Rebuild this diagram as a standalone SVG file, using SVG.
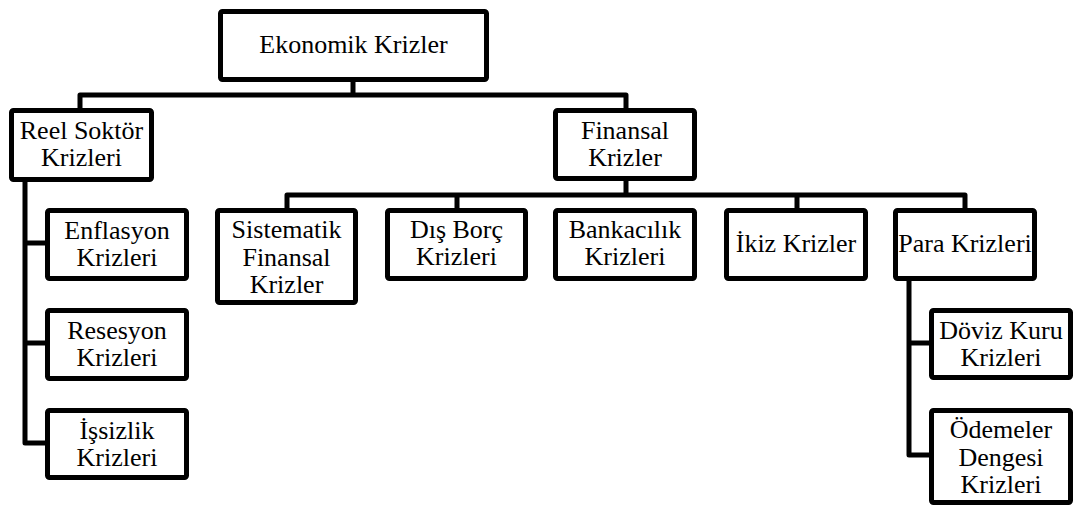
<svg xmlns="http://www.w3.org/2000/svg" width="1081" height="507" viewBox="0 0 1081 507">
<style>
.box{fill:#fff;stroke:#000;stroke-width:5;}
.c{fill:none;stroke:#000;stroke-width:5;stroke-linejoin:round;}
</style>
<rect width="1081" height="507" fill="#fff"/>
<g id="connectors">
<path class="c" d="M353,82 V95 M80,108 V95 H626 V108"/>
<path class="c" d="M626,181 V195 M287,208 V195 H965 V208 M457,195 V208 M797,195 V208"/>
<path class="c" d="M25,182 V443 H45 M25,243 H45 M25,343 H45"/>
<path class="c" d="M909,281 V455 H929 M909,343 H929"/>
</g>
<g font-family="Liberation Serif, Times New Roman, Tinos, DejaVu Serif, serif" font-size="26" text-anchor="middle" fill="#000">
<g id="ekonomik"><rect class="box" x="220.5" y="11.5" width="266" height="68" rx="2"/><text x="353.5" y="53">Ekonomik Krizler</text></g>
<g id="reel"><rect class="box" x="11.5" y="110.5" width="140" height="69" rx="2"/><text x="81.5" y="139">Reel Soktör</text><text x="81.5" y="166">Krizleri</text></g>
<g id="finansal"><rect class="box" x="555.5" y="110.5" width="139" height="68" rx="2"/><text x="625" y="139">Finansal</text><text x="625" y="166">Krizler</text></g>
<g id="enflasyon"><rect class="box" x="47.5" y="210.5" width="139" height="68" rx="2"/><text x="117" y="239">Enflasyon</text><text x="117" y="266">Krizleri</text></g>
<g id="resesyon"><rect class="box" x="47.5" y="310.5" width="139" height="68" rx="2"/><text x="117" y="339">Resesyon</text><text x="117" y="366">Krizleri</text></g>
<g id="issizlik"><rect class="box" x="47.5" y="410.5" width="139" height="67" rx="2"/><text x="117" y="439">İşsizlik</text><text x="117" y="466">Krizleri</text></g>
<g id="sistematik"><rect class="box" x="217.5" y="210.5" width="138" height="92" rx="2"/><text x="286.5" y="238">Sistematik</text><text x="286.5" y="265.5">Finansal</text><text x="286.5" y="293">Krizler</text></g>
<g id="disborc"><rect class="box" x="387.5" y="210.5" width="138" height="68" rx="2"/><text x="456.5" y="238">Dış Borç</text><text x="456.5" y="265">Krizleri</text></g>
<g id="bankacilik"><rect class="box" x="555.5" y="210.5" width="139" height="68" rx="2"/><text x="625" y="238">Bankacılık</text><text x="625" y="265">Krizleri</text></g>
<g id="ikiz"><rect class="box" x="726.5" y="210.5" width="139" height="68" rx="2"/><text x="796" y="252">İkiz Krizler</text></g>
<g id="para"><rect class="box" x="895.5" y="210.5" width="139" height="68" rx="2"/><text x="965" y="252">Para Krizleri</text></g>
<g id="doviz"><rect class="box" x="931.5" y="310.5" width="139" height="67" rx="2"/><text x="1001" y="339">Döviz Kuru</text><text x="1001" y="366">Krizleri</text></g>
<g id="odemeler"><rect class="box" x="931.5" y="410.5" width="139" height="92" rx="2"/><text x="1001" y="438">Ödemeler</text><text x="1001" y="465.5">Dengesi</text><text x="1001" y="493">Krizleri</text></g>
</g>
</svg>
